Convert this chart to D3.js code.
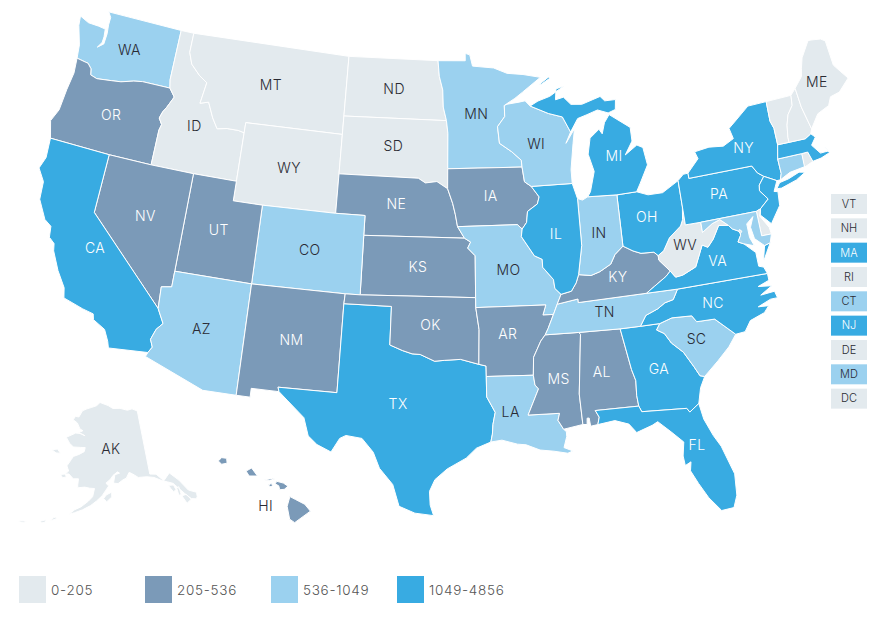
<!DOCTYPE html>
<html><head><meta charset="utf-8">
<script src="https://cdnjs.cloudflare.com/ajax/libs/d3/7.8.5/d3.min.js"></script>
<style>html,body{margin:0;padding:0;background:#fff}svg{display:block}text{font-family:Inter,"Open Sans",sans-serif}</style>
</head><body><svg id="c" width="889" height="618"></svg>
<script>
// DATA
const binLabels=["0-205","205-536","536-1049","1049-4856"];
const binColors=["#e3eaee","#7b9ab8","#9bd1ef","#38abe2"];
const bin0=["MT","ID","WY","ND","SD","ME","VT","NH","RI","DE","DC","WV","AK"];
const bin1=["OR","NV","UT","NM","NE","KS","OK","IA","AR","MS","AL","KY","HI"];
const bin2=["WA","MN","WI","IN","MO","LA","TN","CO","AZ","SC","CT","MD"];
const bin3=["CA","TX","IL","MI","OH","PA","NY","NJ","VA","NC","GA","FL","MA"];
const sideList=["VT","NH","MA","RI","CT","NJ","DE","MD","DC"];
const unlabeled=["VT","NH","MA","RI","CT","NJ","DE","MD","DC"];
// state outlines, [longitude, latitude]
const shapes={
WA:[[[-124.73,48.38],[-124.64,47.9],[-124.17,46.95],[-124.05,46.27],[-123.4,46.2],[-123.17,46.18],[-122.85,45.95],[-122.75,45.65],[-122.25,45.55],[-121.2,45.65],[-120.5,45.72],[-119.6,45.92],[-118.98,46],[-116.92,46],[-117.04,46.42],[-117.04,49],[-122.76,49],[-122.5,48.75],[-122.5,48.35],[-122.42,47.9],[-122.45,47.35],[-122.85,47.1],[-122.6,47.4],[-122.58,47.7],[-122.65,48.1],[-123.2,48.15],[-124,48.17]]],
OR:[[[-124.05,46.27],[-123.95,45.5],[-124.1,44.6],[-124.2,43.5],[-124.55,42.85],[-124.2,42],[-120,42],[-117.03,42],[-117.03,43.8],[-116.93,44.1],[-117.2,44.4],[-117.05,44.75],[-116.85,45],[-116.47,45.6],[-116.92,46],[-118.98,46],[-119.6,45.92],[-120.5,45.72],[-121.2,45.65],[-122.25,45.55],[-122.75,45.65],[-122.85,45.95],[-123.17,46.18],[-123.4,46.2]]],
ID:[[[-117.04,49],[-116.05,49],[-116.05,48],[-115.72,47.43],[-114.97,46.93],[-114.35,46.65],[-114.55,45.56],[-113.95,45.7],[-113.45,44.95],[-113,44.45],[-112.3,44.55],[-111.5,44.55],[-111.05,44.48],[-111.05,42],[-114.05,42],[-117.03,42],[-117.03,43.8],[-116.93,44.1],[-117.2,44.4],[-117.05,44.75],[-116.85,45],[-116.47,45.6],[-116.92,46],[-117.04,46.42]]],
MT:[[[-116.05,49],[-104.05,49],[-104.05,45.94],[-104.05,45],[-111.05,45],[-111.05,44.48],[-111.5,44.55],[-112.3,44.55],[-113,44.45],[-113.45,44.95],[-113.95,45.7],[-114.55,45.56],[-114.35,46.65],[-114.97,46.93],[-115.72,47.43],[-116.05,48]]],
WY:[[[-111.05,45],[-104.05,45],[-104.05,43],[-104.05,41],[-109.05,41],[-111.05,41]]],
ND:[[[-104.05,49],[-97.23,49],[-97.12,48.2],[-96.85,47.5],[-96.8,46.63],[-96.56,45.94],[-104.05,45.94]]],
SD:[[[-104.05,45.94],[-96.56,45.94],[-96.45,45.3],[-96.45,43.5],[-96.45,42.49],[-97.2,42.85],[-98,42.77],[-98.5,43],[-104.05,43]]],
NE:[[[-104.05,43],[-98.5,43],[-98,42.77],[-97.2,42.85],[-96.45,42.49],[-96.1,41.75],[-95.92,41.2],[-95.77,40.58],[-95.31,40],[-102.05,40],[-102.05,41],[-104.05,41]]],
KS:[[[-102.05,40],[-95.31,40],[-94.9,39.8],[-95.1,39.5],[-94.61,39.11],[-94.62,37],[-102.04,37]]],
CO:[[[-109.05,41],[-104.05,41],[-102.05,41],[-102.05,40],[-102.04,37],[-103,37],[-109.05,37]]],
UT:[[[-114.05,42],[-111.05,42],[-111.05,41],[-109.05,41],[-109.05,37],[-114.05,37]]],
NV:[[[-120,42],[-117.03,42],[-114.05,42],[-114.05,37],[-114.05,36.2],[-114.7,36.1],[-114.63,35],[-120,39]]],
CA:[[[-124.2,42],[-120,42],[-120,39],[-114.63,35],[-114.15,34.3],[-114.5,33.95],[-114.72,33.4],[-114.52,33.03],[-114.72,32.72],[-117.12,32.53],[-117.25,32.85],[-117.6,33.4],[-118.4,33.75],[-118.5,34.03],[-119.2,34.15],[-120.5,34.45],[-120.65,34.95],[-121.3,35.7],[-121.9,36.6],[-122,36.96],[-122.4,37.2],[-122.5,37.75],[-123,38],[-123.7,38.9],[-123.8,39.8],[-124.35,40.4],[-124.1,41]]],
AZ:[[[-114.05,37],[-109.05,37],[-109.05,31.33],[-111.07,31.33],[-114.82,32.5],[-114.72,32.72],[-114.52,33.03],[-114.72,33.4],[-114.5,33.95],[-114.15,34.3],[-114.63,35],[-114.7,36.1],[-114.05,36.2]]],
NM:[[[-109.05,37],[-103,37],[-103.04,36.5],[-103.06,32],[-106.62,32],[-106.53,31.78],[-108.21,31.78],[-108.21,31.33],[-109.05,31.33]]],
TX:[[[-103.04,36.5],[-100,36.5],[-100,34.56],[-99.2,34.3],[-98.6,34.15],[-98.1,34.13],[-97.2,33.8],[-96.6,33.85],[-95.6,33.9],[-94.48,33.64],[-94.04,33.55],[-94.04,33.02],[-94.04,31.99],[-93.55,31.2],[-93.7,30.6],[-93.75,30.1],[-93.85,29.7],[-94.7,29.4],[-95.3,28.9],[-96.4,28.35],[-97.1,27.8],[-97.4,27.2],[-97.35,26.5],[-97.15,25.96],[-98.2,26.07],[-99.1,26.4],[-99.5,27.5],[-100.3,28.3],[-100.7,29.1],[-101.4,29.77],[-102.35,29.87],[-102.7,29.7],[-103.15,28.98],[-104,29.3],[-104.55,29.7],[-104.9,30.6],[-106,31.4],[-106.53,31.78],[-106.62,32],[-103.06,32]]],
OK:[[[-103,37],[-102.04,37],[-94.62,37],[-94.62,36.5],[-94.43,35.39],[-94.48,33.64],[-95.6,33.9],[-96.6,33.85],[-97.2,33.8],[-98.1,34.13],[-98.6,34.15],[-99.2,34.3],[-100,34.56],[-100,36.5],[-103.04,36.5]]],
MN:[[[-97.23,49],[-95.15,49],[-95.15,49.38],[-94.8,49.3],[-94.6,48.72],[-93,48.6],[-92,48.3],[-90.8,48.2],[-89.5,48],[-90.9,47.3],[-91.5,47],[-92.1,46.75],[-92.3,46.66],[-92.3,46.1],[-92.85,45.6],[-92.75,44.75],[-91.9,44.3],[-91.25,43.85],[-91.22,43.5],[-96.45,43.5],[-96.45,45.3],[-96.56,45.94],[-96.8,46.63],[-96.85,47.5],[-97.12,48.2]]],
IA:[[[-96.45,43.5],[-91.22,43.5],[-91.1,42.75],[-90.65,42.5],[-90.15,41.95],[-90.3,41.6],[-91,41.25],[-91.1,40.7],[-91.42,40.38],[-91.73,40.61],[-95.77,40.58],[-95.92,41.2],[-96.1,41.75],[-96.45,42.49]]],
MO:[[[-95.77,40.58],[-91.73,40.61],[-91.42,40.38],[-91.5,40],[-90.7,39],[-90.2,38.8],[-90.2,38.4],[-89.55,37.75],[-89.5,37.3],[-89.13,36.98],[-89.42,36.5],[-89.7,36],[-90.37,36],[-90.15,36.5],[-94.62,36.5],[-94.62,37],[-94.61,39.11],[-95.1,39.5],[-94.9,39.8],[-95.31,40]]],
AR:[[[-94.62,36.5],[-90.15,36.5],[-90.37,36],[-89.7,36],[-90.1,35.3],[-90.3,35],[-90.6,34.7],[-91.1,33.9],[-91.17,33],[-94.04,33.02],[-94.04,33.55],[-94.48,33.64],[-94.43,35.39]]],
LA:[[[-94.04,33.02],[-91.17,33],[-91.1,32.5],[-90.9,32.3],[-91.6,31],[-89.73,31],[-89.85,30.65],[-89.55,30.18],[-89.4,30.05],[-89.4,29.8],[-89.6,29.25],[-89.1,29.05],[-89.4,28.95],[-90.2,29.1],[-91,29.2],[-91.8,29.5],[-92.3,29.55],[-93.2,29.78],[-93.85,29.7],[-93.75,30.1],[-93.7,30.6],[-93.55,31.2],[-94.04,31.99]]],
MS:[[[-90.3,35],[-88.2,35],[-88.1,34.9],[-88.47,31.9],[-88.4,30.35],[-89.55,30.18],[-89.85,30.65],[-89.73,31],[-91.6,31],[-90.9,32.3],[-91.1,32.5],[-91.17,33],[-91.1,33.9],[-90.6,34.7]]],
AL:[[[-88.2,35],[-85.6,34.98],[-85.18,32.87],[-85,32.3],[-85.05,31.55],[-85,31],[-87.6,31],[-87.4,30.65],[-87.52,30.28],[-87.95,30.23],[-88,30.65],[-88.12,30.65],[-88.15,30.33],[-88.4,30.35],[-88.47,31.9],[-88.1,34.9]]],
GA:[[[-85.6,34.98],[-84.32,34.99],[-83.1,35],[-83.35,34.7],[-82.9,34.47],[-82.55,33.95],[-81.9,33.4],[-81.4,32.6],[-81.12,32.1],[-80.85,32.03],[-81.2,31.5],[-81.45,30.72],[-82.05,30.36],[-82.2,30.57],[-84.86,30.7],[-85,31],[-85.05,31.55],[-85,32.3],[-85.18,32.87]]],
FL:[[[-87.6,31],[-85,31],[-84.86,30.7],[-82.2,30.57],[-82.05,30.36],[-81.45,30.72],[-81.3,29.9],[-80.9,29],[-80.55,28.4],[-80.05,26.9],[-80.13,25.8],[-80.4,25.2],[-81.1,25.15],[-81.7,25.9],[-82.15,26.7],[-82.5,27.4],[-82.4,27.85],[-82.75,27.7],[-82.8,28.2],[-82.65,28.9],[-83.3,29.5],[-84,30.1],[-84.35,29.95],[-85.3,29.68],[-85.7,30.15],[-86.5,30.4],[-87.52,30.28],[-87.4,30.65]]],
SC:[[[-83.1,35],[-82.3,35.2],[-81.05,35.15],[-80.8,34.82],[-79.67,34.8],[-78.55,33.86],[-79.1,33.3],[-79.9,32.7],[-80.85,32.03],[-81.12,32.1],[-81.4,32.6],[-81.9,33.4],[-82.55,33.95],[-82.9,34.47],[-83.35,34.7]]],
NC:[[[-84.32,34.99],[-83.1,35],[-82.3,35.2],[-81.05,35.15],[-80.8,34.82],[-79.67,34.8],[-78.55,33.86],[-77.95,33.9],[-77.5,34.4],[-76.55,34.65],[-76.2,34.95],[-76.85,35],[-76,35.25],[-75.55,35.25],[-75.65,35.6],[-76.55,35.55],[-75.75,35.9],[-76.6,36],[-75.85,36.2],[-75.85,36.55],[-81.68,36.59],[-82.05,36.1],[-82.6,36],[-83.1,35.75],[-83.9,35.5]]],
TN:[[[-90.3,35],[-88.2,35],[-85.6,34.98],[-84.32,34.99],[-83.9,35.5],[-83.1,35.75],[-82.6,36],[-82.05,36.1],[-81.68,36.59],[-83.68,36.6],[-88.07,36.5],[-88.07,36.68],[-89.42,36.5],[-89.7,36],[-90.1,35.3]]],
KY:[[[-89.42,36.5],[-88.07,36.68],[-88.07,36.5],[-83.68,36.6],[-83.1,36.9],[-82.3,37.3],[-81.97,37.54],[-82.6,38.17],[-82.6,38.4],[-82.85,38.6],[-83.7,38.63],[-84.2,38.8],[-84.82,39.1],[-85.4,38.73],[-85.75,38.27],[-86.5,37.95],[-87.1,37.8],[-87.9,37.9],[-88.1,37.5],[-88.45,37.1],[-89.13,36.98]]],
VA:[[[-83.68,36.6],[-81.68,36.59],[-75.85,36.55],[-76,36.9],[-76.3,37],[-76.3,37.7],[-76.95,38.25],[-77.3,38.4],[-77.05,38.7],[-77.04,38.79],[-77.12,38.93],[-77.5,39.1],[-77.72,39.32],[-78.35,39.4],[-78.87,38.77],[-79.3,38.42],[-79.65,38.58],[-80.3,37.55],[-81.2,37.25],[-81.68,37.2],[-81.97,37.54],[-82.3,37.3],[-83.1,36.9]],[[-75.95,37.15],[-75.6,37.6],[-75.25,38.03],[-75.65,37.95]]],
WV:[[[-82.6,38.17],[-81.97,37.54],[-81.68,37.2],[-81.2,37.25],[-80.3,37.55],[-79.65,38.58],[-79.3,38.42],[-78.87,38.77],[-78.35,39.4],[-77.72,39.32],[-78.2,39.68],[-78.75,39.55],[-79.48,39.2],[-79.48,39.72],[-80.52,39.72],[-80.52,40.64],[-80.65,40],[-80.85,39.7],[-81.7,39.2],[-82.2,38.6],[-82.6,38.4]]],
OH:[[[-84.82,41.7],[-83.45,41.73],[-82.7,41.5],[-81.7,41.5],[-80.52,41.98],[-80.52,40.64],[-80.65,40],[-80.85,39.7],[-81.7,39.2],[-82.2,38.6],[-82.6,38.4],[-82.85,38.6],[-83.7,38.63],[-84.2,38.8],[-84.82,39.1]]],
IN:[[[-87.53,41.72],[-87.2,41.62],[-86.82,41.76],[-84.82,41.7],[-84.82,39.1],[-85.4,38.73],[-85.75,38.27],[-86.5,37.95],[-87.1,37.8],[-87.9,37.9],[-87.53,39.35]]],
IL:[[[-90.65,42.5],[-87.8,42.5],[-87.53,41.72],[-87.53,39.35],[-87.9,37.9],[-88.1,37.5],[-88.45,37.1],[-89.13,36.98],[-89.5,37.3],[-89.55,37.75],[-90.2,38.4],[-90.2,38.8],[-90.7,39],[-91.5,40],[-91.42,40.38],[-91.1,40.7],[-91,41.25],[-90.3,41.6],[-90.15,41.95]]],
WI:[[[-92.3,46.66],[-92.1,46.72],[-91.2,46.8],[-90.75,46.85],[-90.4,46.57],[-89.1,46.13],[-88.1,45.9],[-87.6,45.1],[-88,44.55],[-87.3,45.25],[-87.5,44.5],[-87.8,43.2],[-87.8,42.5],[-90.65,42.5],[-91.1,42.75],[-91.22,43.5],[-91.25,43.85],[-91.9,44.3],[-92.75,44.75],[-92.85,45.6],[-92.3,46.1]]],
MI:[[[-86.82,41.76],[-84.82,41.7],[-83.45,41.73],[-83.15,42.1],[-82.45,43],[-82.6,43.9],[-83,44.07],[-83.9,43.65],[-83.3,44.3],[-83.3,45],[-84.7,45.78],[-85.1,45.4],[-85.35,44.85],[-85.55,45.1],[-85.9,44.9],[-86.25,44.7],[-86.5,43.9],[-86.2,43],[-86.6,42]],[[-90.4,46.57],[-89.1,46.13],[-88.1,45.9],[-87.6,45.1],[-87,45.75],[-86.3,45.9],[-85.5,46.08],[-84.75,45.87],[-84.2,46],[-84.1,46.5],[-84.9,46.5],[-85.2,46.75],[-86.6,46.45],[-87.4,46.5],[-87.9,46.9],[-88.5,46.8],[-88.4,47.35],[-87.8,47.47],[-88.9,47],[-89.8,46.8]],[[-89.6,47.65],[-88.9,47.98],[-88.8,47.92],[-89.5,47.63]]],
PA:[[[-80.52,41.98],[-80.1,42.25],[-79.76,42.27],[-79.76,42],[-75.35,42],[-75.07,41.6],[-74.7,41.36],[-75.13,40.98],[-75.2,40.7],[-74.75,40.2],[-75.4,39.8],[-75.7,39.72],[-79.48,39.72],[-80.52,39.72]]],
NY:[[[-79.76,42.27],[-79.76,42],[-75.35,42],[-75.07,41.6],[-74.7,41.36],[-73.9,41],[-73.65,41],[-73.5,41.3],[-73.5,42.05],[-73.27,42.75],[-73.25,43.6],[-73.4,44],[-73.34,45.01],[-74.7,45],[-75.8,44.4],[-76.35,44.1],[-76.2,43.55],[-77,43.28],[-78,43.37],[-79.05,43.27],[-78.9,42.9]],[[-74.03,40.6],[-73.75,40.87],[-73.1,40.95],[-72.3,41.15],[-71.9,41.07],[-72.6,40.8],[-73.7,40.58]]],
NJ:[[[-74.7,41.36],[-73.9,41],[-74.25,40.5],[-74,40.45],[-74.1,39.75],[-74.9,38.95],[-75.5,39.5],[-75.4,39.8],[-74.75,40.2],[-75.2,40.7],[-75.13,40.98]]],
DE:[[[-75.7,39.72],[-75.4,39.8],[-75.55,39.45],[-75.1,38.8],[-75.05,38.45],[-75.7,38.46]]],
MD:[[[-79.48,39.72],[-75.7,39.72],[-75.7,38.46],[-75.05,38.45],[-75.25,38.03],[-75.65,37.95],[-76.2,38.4],[-76.3,39],[-76,39.5],[-76.5,39.2],[-76.5,38.5],[-76.3,38.05],[-76.95,38.25],[-77.3,38.4],[-77.05,38.7],[-77.04,38.79],[-77.12,38.93],[-77.5,39.1],[-77.72,39.32],[-78.2,39.68],[-78.75,39.55],[-79.48,39.2]]],
DC:[[[-77.12,38.93],[-77.04,39],[-76.91,38.89],[-77.04,38.79]]],
CT:[[[-73.5,42.05],[-71.8,42.02],[-71.8,41.35],[-72.9,41.25],[-73.65,41],[-73.5,41.3]]],
RI:[[[-71.8,42.02],[-71.38,42.02],[-71.2,41.5],[-71.85,41.32]]],
MA:[[[-73.5,42.05],[-73.27,42.75],[-72.46,42.73],[-71.3,42.7],[-70.85,42.87],[-70.6,42.65],[-71,42.3],[-70.55,41.8],[-70,41.8],[-70.2,42.07],[-69.95,41.7],[-70.6,41.55],[-71.2,41.5],[-71.38,42.02],[-71.8,42.02]]],
VT:[[[-73.34,45.01],[-71.5,45.01],[-71.6,44.5],[-72.05,44.1],[-72.3,43.6],[-72.45,43],[-72.46,42.73],[-73.27,42.75],[-73.25,43.6],[-73.4,44]]],
NH:[[[-71.5,45.01],[-71.08,45.3],[-71,44.3],[-70.7,43.1],[-70.85,42.87],[-71.3,42.7],[-72.46,42.73],[-72.45,43],[-72.3,43.6],[-72.05,44.1],[-71.6,44.5]]],
ME:[[[-71.08,45.3],[-70.4,45.8],[-70.25,46.2],[-70,46.7],[-69.23,47.46],[-69,47.45],[-68.3,47.36],[-68,47.2],[-67.95,45.9],[-67.6,45.5],[-67.2,45.05],[-68.1,44.5],[-68.8,44.4],[-69.1,44],[-70,43.75],[-70.7,43.1],[-71,44.3]]],
AK:[[[-141,69.65],[-143,70.1],[-145,70],[-148,70.4],[-151,70.45],[-153,70.9],[-156.6,71.35],[-158,70.85],[-160,70.55],[-162,70.25],[-163.7,69.9],[-164.8,68.9],[-166.2,68.9],[-166.8,68.35],[-165,68],[-163.7,67.2],[-162.5,67],[-164,66.6],[-161.5,66.3],[-163,66.55],[-165,66.5],[-168,65.65],[-166.5,64.9],[-165,64.45],[-162.5,64.55],[-161,64.6],[-161.2,64],[-162.8,63.5],[-164.5,63.1],[-165,62.6],[-166,61.6],[-165.2,60.9],[-166.1,60.4],[-165,60.5],[-163.5,59.9],[-162,60],[-162,59.1],[-161.9,58.7],[-160,58.9],[-158.5,58.8],[-157.2,58.8],[-157.6,57.6],[-158.7,56.9],[-160.5,56],[-162,55.5],[-163.3,54.75],[-162,55.05],[-160,55.6],[-158,56.3],[-156.5,57],[-155,57.8],[-154,58.6],[-153.2,59.2],[-154,59.6],[-152.6,60.2],[-151.9,60.7],[-150.5,61.2],[-149.9,61],[-151.3,60.8],[-151.8,59.6],[-150.5,59.5],[-149,60],[-148,60.2],[-147,61],[-146,60.7],[-144.5,60.1],[-142,60],[-140,59.7],[-138,59],[-136.5,58.6],[-135.2,58.2],[-134,57.2],[-133,56.3],[-131.8,55.3],[-130.6,55],[-130.2,55.3],[-130,55.9],[-131.8,56.6],[-133.4,58.4],[-135.4,59.8],[-137.5,58.9],[-139.2,60.1],[-141,60.3]],[[-154.6,57.4],[-153.9,57.9],[-152.4,58.3],[-152.4,57.6],[-153.8,56.9]],[[-171.7,63.4],[-170,63.7],[-168.8,63.2],[-170.2,63.1]],[[-167.4,60.2],[-166,60.4],[-165.6,60],[-166.6,59.8]],[[-136.6,58.1],[-135.2,57.95],[-134.9,57.2],[-135.7,57],[-136.2,57.6]],[[-133.9,56.1],[-132.7,56.1],[-131.9,55.2],[-133.2,54.85]],[[-134.6,57.4],[-133.95,57.5],[-133.95,56.3],[-134.6,56.3]],[[-166.9,53.9],[-166.2,54.05],[-166.3,53.75],[-167.5,53.35]],[[-169.9,52.95],[-168.6,53.35],[-168.7,53],[-169.5,52.75]],[[-174.4,52.3],[-173,52.4],[-173.6,52.15],[-175,52.02]]],
HI:[[[-159.78,22.06],[-159.6,22.23],[-159.33,22.2],[-159.3,21.95],[-159.6,21.89]],[[-158.27,21.55],[-157.97,21.71],[-157.65,21.3],[-158.1,21.3]],[[-157.3,21.1],[-156.85,21.18],[-156.72,21.15],[-157,21.08]],[[-157.05,20.85],[-156.9,20.92],[-156.82,20.8],[-156.97,20.75]],[[-156.7,20.9],[-156.6,21.03],[-156.25,20.94],[-156,20.78],[-156.2,20.62],[-156.45,20.6],[-156.5,20.8]],[[-155.9,20.25],[-155.6,20.1],[-155.1,19.85],[-154.8,19.5],[-155.65,18.92],[-155.92,19.1],[-156.05,19.75]]]
};
// LAYOUT
const labelNudge={CA:[2,-1],NV:[0,-2],UT:[0,-2],AZ:[-1,-2],SD:[-2,-2],NE:[-2,-2],TX:[-1,-3],MN:[-2,1],AR:[-3,-4],LA:[-12,-3],AL:[-3,-2],WI:[-2,0],TN:[-2,-1],KY:[-2,-1],MI:[10,10],OH:[-3,-2],GA:[-2,-2],FL:[9,-2],SC:[-2,-1],NC:[-5,0],VA:[0,-2],WV:[-2,-2],PA:[-2,-1],NY:[-2,-1],ME:[-1,2],AK:[0,-3],HI:[-18,8]};
const projection=d3.geoAlbersUsa().scale(1128).translate([445,264]);
const path=d3.geoPath(projection);
const svg=d3.select("#c");
const binOf=c=>[bin0,bin1,bin2,bin3].findIndex(b=>b.includes(c));
const inkOf=i=>(i===1||i===3)?"#fff":"#2a2a33";
const rewind=ring=>{const r=ring.concat([ring[0]]);return d3.geoArea({type:"Polygon",coordinates:[r]})>2*Math.PI?r.slice().reverse():r;};
const features=Object.keys(shapes).map(code=>({type:"Feature",id:code,geometry:{type:"MultiPolygon",coordinates:shapes[code].map(ring=>[rewind(ring)])}}));
svg.append("g").selectAll("path").data(features).join("path")
  .attr("d",path).attr("fill",d=>binColors[binOf(d.id)]).attr("stroke","#fff").attr("stroke-width",1).attr("stroke-linejoin","round");
svg.append("g").selectAll("text").data(features.filter(d=>!unlabeled.includes(d.id))).join("text")
  .attr("transform",d=>{const c=path.centroid(d),n=labelNudge[d.id]||[0,0];return `translate(${c[0]+n[0]},${c[1]+n[1]})`;})
  .attr("text-anchor","middle").attr("dy","0.35em").attr("font-size",14).attr("font-weight",300).attr("letter-spacing",0.4)
  .attr("fill",d=>d.id==="HI"?"#2a2a33":inkOf(binOf(d.id))).text(d=>d.id);
const side=svg.append("g").selectAll("g").data(sideList).join("g").attr("transform",(d,i)=>`translate(831,${194+i*24.33})`);
side.append("rect").attr("width",36).attr("height",20).attr("fill",d=>binColors[binOf(d)]);
side.append("text").attr("x",18).attr("y",10).attr("dy","0.35em").attr("text-anchor","middle").attr("font-size",11).attr("font-weight",300).attr("fill",d=>inkOf(binOf(d))).text(d=>d);
const leg=svg.append("g").selectAll("g").data(binLabels).join("g").attr("transform",(d,i)=>`translate(${19+i*126},576)`);
leg.append("rect").attr("width",27).attr("height",27).attr("fill",(d,i)=>binColors[i]);
leg.append("text").attr("x",32).attr("y",14).attr("dy","0.35em").attr("font-size",13.5).attr("font-weight",300).attr("letter-spacing",0.7).attr("fill","#555").text(d=>d);
</script></body></html>
